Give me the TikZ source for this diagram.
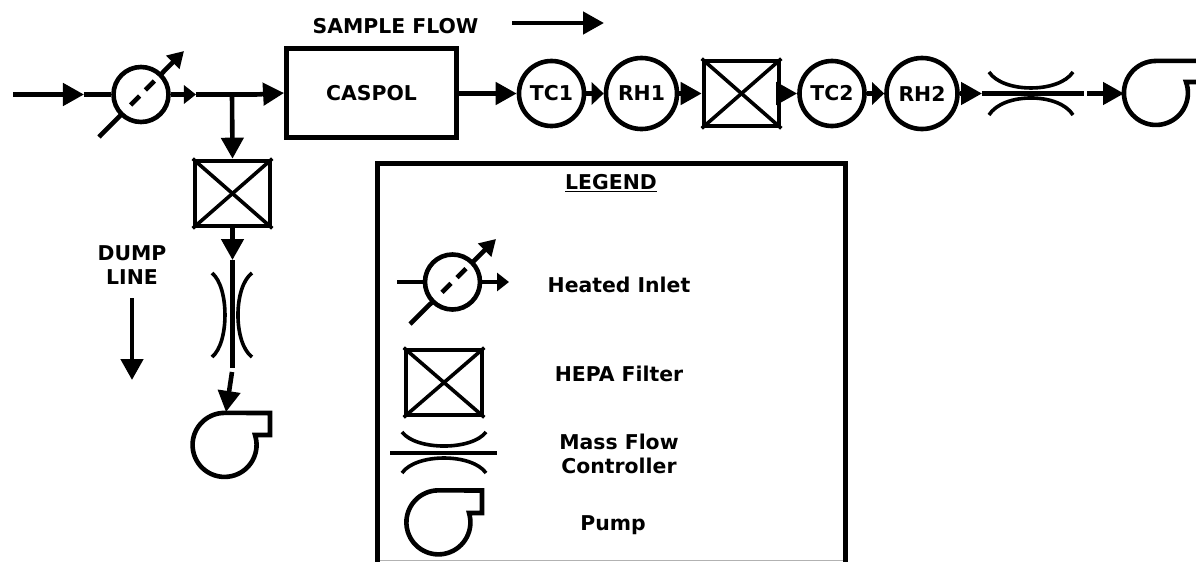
\documentclass[tikz,border=0pt]{standalone}
\usepackage{fontspec}
\setmainfont{DejaVu Sans}
\usetikzlibrary{arrows.meta}
\tikzset{
    pipe/.style={line width=0.115cm},
    flow/.style={pipe,-{Triangle[length=0.525cm,width=0.55cm]}},
    flowshort/.style={pipe,-{Triangle[length=0.3cm,width=0.55cm]}},
    flowsmall/.style={pipe,-{Triangle[length=0.3cm,width=0.45cm]}},
    heater/.style={pipe,-{Triangle[length=0.4cm,width=0.45cm]},
        dash pattern=on 24pt off 8pt on 9pt off 6pt on 9pt off 5pt on 100pt},
    unit/.style={draw,line width=0.115cm,circle,inner sep=0pt},
    tcunit/.style={unit,minimum size=1.625cm},
    rhunit/.style={unit,minimum size=1.775cm},
    hotunit/.style={unit,minimum size=1.375cm},
    filterbox/.style={draw,line width=0.115cm,rectangle,minimum width=1.875cm,minimum height=1.625cm},
    crossline/.style={line width=0.09cm},
    arcline/.style={line width=0.09cm},
    label/.style={font=\fontsize{14.5}{17}\selectfont\bfseries,inner sep=0pt,align=center}
}
\begin{document}
\begin{tikzpicture}[x=0.025cm,y=-0.025cm]
    \useasboundingbox (0,0) rectangle (1196,561);
    % Texts above the line
    \node [label] (sampletext) at (395.5,26) {SAMPLE FLOW};
    \coordinate (samplestart) at (512,23);
    \coordinate (sampleend) at (604,23);
    \draw [flow] (samplestart) -- (sampleend);

    % Drawing inlet and heater
    \coordinate (inletstart) at (13,94.5);
    \coordinate (inletend) at (84,94.5);
    \node [hotunit] (hot) at (141,94.5) {};
    \draw [flow] (inletstart) -- (inletend);
    \draw [pipe] (inletend) -- (hot);
    \coordinate (hotstart) at (99,137);
    \coordinate (hotend) at (184,51);
    \draw [heater] (hotstart) -- (hotend);
    \coordinate (teeleft) at (196,94.5);
    \coordinate (tee) at (232,94.5);
    \coordinate (teeright) at (256,94.5);
    \draw [flowsmall] (hot) -- (teeleft);
    \draw [pipe] (teeleft) -- (teeright);

    % Drawing main line
    \node [draw,line width=0.12cm,minimum width=4.25cm,minimum height=2.22cm,label] (caspol) at (371.5,93) {CASPOL};
    \node [tcunit,label] (tcone) at (551.5,93.5) {TC1};
    \node [rhunit,label] (rhone) at (641.5,93.5) {RH1};
    \node [filterbox] (filtermain) at (741.5,93.5) {};
    \node [tcunit,label] (tctwo) at (832,93.5) {TC2};
    \node [rhunit,label] (rhtwo) at (922,93.5) {RH2};
    \draw [crossline] (filtermain.north west) -- (filtermain.south east);
    \draw [crossline] (filtermain.south west) -- (filtermain.north east);
    \draw [flow] (teeright) -- (caspol.west);
    \draw [flow] (caspol.east |- tcone) -- (tcone);
    \draw [flowshort] (tcone) -- (rhone);
    \draw [flow] (rhone) -- (filtermain);
    \draw [flow] (filtermain) -- (tctwo);
    \draw [flowshort] (tctwo) -- (rhtwo);

    % Drawing mass flow controller of main line
    \coordinate (mfcstart) at (982,93.5);
    \coordinate (mfcend) at (1084,93.5);
    \draw [flow] (rhtwo) -- (mfcstart);
    \draw [pipe] (mfcstart) -- (mfcend);
    \draw [arcline] (989,72) .. controls (1003,93.3) and (1059,93.3) .. (1073,72);
    \draw [arcline] (989,115) .. controls (1003,92.3) and (1059,92.3) .. (1073,115);

    % Drawing pump of main line
    \coordinate (pumpstart) at (1087,93.5);
    \coordinate (pumpend) at (1124,93.5);
    \draw [flow] (pumpstart) -- (pumpend);
    \draw [pipe] (1210,82) -- (1186,82) arc[start angle=20,end angle=-270,radius=0.8cm] -- ++(60,0);

    % Drawing dump line
    \node [filterbox] (filterdump) at (232.5,193.5) {};
    \draw [crossline] (filterdump.north west) -- (filterdump.south east);
    \draw [crossline] (filterdump.south west) -- (filterdump.north east);
    \draw [flow] (tee) -- (filterdump.north);
    \coordinate (dumpmfcstart) at (232.5,260);
    \coordinate (dumpmfcend) at (232.5,368);
    \coordinate (dumppumpstart) at (232,372);
    \coordinate (dumppumpend) at (226,412);
    \draw [flow] (filterdump.south) -- (dumpmfcstart);
    \draw [pipe] (dumpmfcstart) -- (dumpmfcend);
    \draw [arcline] (212,273) .. controls (229.3,287) and (229.3,343) .. (212,357);
    \draw [arcline] (252,273) .. controls (233.3,287) and (233.3,343) .. (252,357);
    \draw [flow] (dumppumpstart) -- (dumppumpend);
    \draw [pipe] (255,435) arc[start angle=18,end angle=-270,radius=0.8cm] -- (270,413) -- (270,435) -- cycle;
    \node [label] (dumptext) at (132,265) {DUMP\\LINE};
    \coordinate (dumparrowstart) at (132,298);
    \coordinate (dumparrowend) at (132,380);
    \draw [flow] (dumparrowstart) -- (dumparrowend);

    % Drawing legend, its lower edge is cut by the page
    \draw [line width=0.125cm] (377.5,575) -- (377.5,163) -- (845.5,163) -- (845.5,575);
    \draw [line width=0.025cm,black!30] (380,560.5) -- (843,560.5);
    \node [label] (legendtext) at (611,183) {\underline{LEGEND}};

    % Legend heated inlet
    \node [hotunit] (hotkey) at (452.5,282) {};
    \coordinate (hotkeyin) at (397,282);
    \coordinate (hotkeyout) at (509,282);
    \coordinate (hotkeystart) at (410,324);
    \coordinate (hotkeyend) at (496,239);
    \draw [pipe] (hotkeyin) -- (hotkey);
    \draw [flowsmall] (hotkey) -- (hotkeyout);
    \draw [heater] (hotkeystart) -- (hotkeyend);
    \node [label] (hottext) at (619,285) {Heated Inlet};

    % Legend HEPA filter
    \node [filterbox,minimum width=1.9cm] (filterkey) at (444,382.5) {};
    \draw [crossline] (filterkey.north west) -- (filterkey.south east);
    \draw [crossline] (filterkey.south west) -- (filterkey.north east);
    \node [label] (filtertext) at (619,374) {HEPA Filter};

    % Legend mass flow controller
    \coordinate (mfckeystart) at (390,453);
    \coordinate (mfckeyend) at (497,453);
    \draw [pipe] (mfckeystart) -- (mfckeyend);
    \draw [arcline] (402,432) .. controls (416,450.7) and (472,450.7) .. (486,432);
    \draw [arcline] (402,473) .. controls (416,453) and (472,453) .. (486,473);
    \node [label] (mfctext) at (619,454) {Mass Flow\\Controller};

    % Legend pump
    \draw [pipe] (469,513) arc[start angle=17,end angle=-270,radius=0.8cm] -- (482,490.5) -- (482,513) -- cycle;
    \node [label] (pumptext) at (613,525) {Pump};
\end{tikzpicture}
\end{document}
